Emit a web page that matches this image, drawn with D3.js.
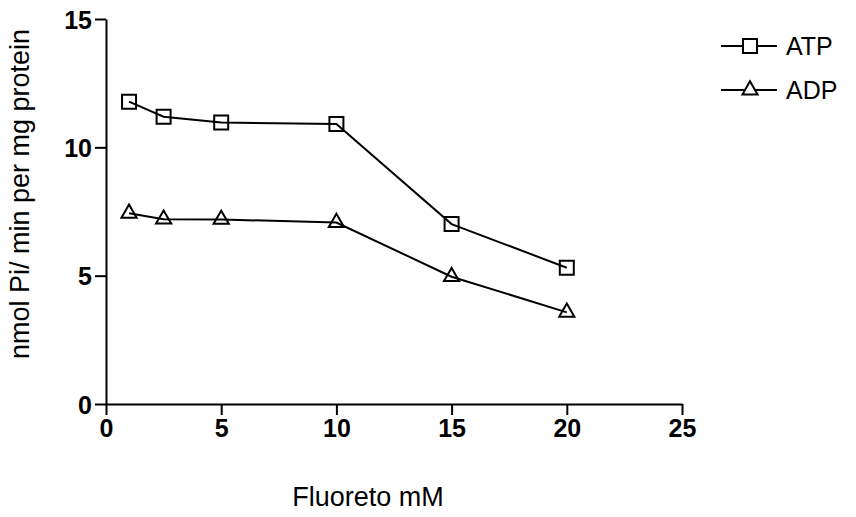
<!DOCTYPE html>
<html><head><meta charset="utf-8">
<script src="https://cdn.jsdelivr.net/npm/d3@7"></script>
<style>body{margin:0;background:#fff}svg{display:block}</style>
</head><body>
<svg id="c" width="856" height="517"></svg>
<script>
const xValues = [1, 2.5, 5, 10, 15, 20];
const atp = [11.78, 11.19, 10.97, 10.91, 7.01, 5.31];
const adp = [7.43, 7.2, 7.19, 7.07, 4.96, 3.57];
const xTicks = [0, 5, 10, 15, 20, 25];
const yTicks = [0, 5, 10, 15];
const seriesNames = ["ATP", "ADP"];

const svg = d3.select("#c");
const x = d3.scaleLinear().domain([0, 25]).range([106, 682]);
const y = d3.scaleLinear().domain([0, 15]).range([404, 19]);
const font = "'Liberation Sans', Arial, sans-serif";

const xAxis = svg.append("g").attr("transform", "translate(0,404)")
  .call(d3.axisBottom(x).tickValues(xTicks).tickSize(11).tickPadding(4).tickSizeOuter(0));
const yAxis = svg.append("g").attr("transform", "translate(106,0)")
  .call(d3.axisLeft(y).tickValues(yTicks).tickSize(11).tickPadding(3).tickSizeOuter(0));
[xAxis, yAxis].forEach(a => {
  a.attr("font-size", null).attr("font-family", null);
  a.select(".domain").attr("stroke", "#000").attr("stroke-width", 2);
  a.selectAll(".tick line").attr("stroke", "#000").attr("stroke-width", 2);
  a.selectAll(".tick text").attr("fill", "#000").style("font-family", font)
    .style("font-size", "25px").style("font-weight", "bold");
});
yAxis.selectAll(".tick text").attr("dy", "0.36em");

svg.append("text").attr("x", 368).attr("y", 506).attr("text-anchor", "middle")
  .style("font-family", font).style("font-size", "27px").text("Fluoreto mM");
svg.append("text").attr("transform", "translate(29,194) rotate(-90)").attr("text-anchor", "middle")
  .style("font-family", font).style("font-size", "27px").text("nmol Pi/ min per mg protein");

const line = d3.line().x(d => x(d[0])).y(d => y(d[1]));
const sq = d3.symbol().type(d3.symbolSquare).size(196);
const tri = d3.symbol().type(d3.symbolTriangle).size(100);

function drawSeries(vals, sym) {
  const pts = xValues.map((v, i) => [v, vals[i]]);
  svg.append("path").datum(pts).attr("d", line).attr("fill", "none")
    .attr("stroke", "#000").attr("stroke-width", 2);
  svg.selectAll(null).data(pts).enter().append("path").attr("d", sym)
    .attr("transform", d => `translate(${x(d[0])},${y(d[1])})`)
    .attr("fill", "none").attr("stroke", "#000").attr("stroke-width", 2);
}
drawSeries(atp, sq);
drawSeries(adp, tri);

// legend
const leg = [{name: seriesNames[0], sym: sq, y: 46}, {name: seriesNames[1], sym: tri, y: 90}];
leg.forEach(l => {
  svg.append("line").attr("x1", 721).attr("x2", 777).attr("y1", l.y).attr("y2", l.y)
    .attr("stroke", "#000").attr("stroke-width", 2);
  svg.append("path").attr("d", l.sym).attr("transform", `translate(750,${l.y})`)
    .attr("fill", "#fff").attr("stroke", "#000").attr("stroke-width", 2);
  svg.append("text").attr("x", 786).attr("y", l.y + 9).style("font-family", font)
    .style("font-size", "25px").text(l.name);
});
</script>
</body></html>
